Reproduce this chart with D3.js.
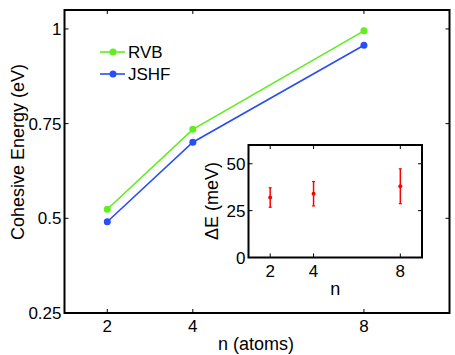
<!DOCTYPE html>
<html>
<head>
<meta charset="utf-8">
<script src="https://cdn.jsdelivr.net/npm/d3@7"></script>
<style>
  body { margin: 0; background: #fff; }
  text { font-family: "Liberation Sans", Arial, sans-serif; fill: #000; }
</style>
</head>
<body>
<div id="chart"></div>
<script>
/* Cohesive energy vs n, with inset of energy difference */

const atoms = [2, 4, 8];
const rvb = [0.524, 0.735, 0.995];
const jshf = [0.491, 0.701, 0.957];
const yTicks = [0.25, 0.5, 0.75, 1];

const insetN = [2, 4, 8];
const deltaE = [32, 34, 38];
const deltaErr = [5.2, 6.5, 9.3];
const insetYTicks = [0, 25, 50];

const width = 455, height = 355;

const svg = d3.select("#chart")
    .append("svg")
    .attr("width", width)
    .attr("height", height);

// main axes
const x = d3.scaleLinear().domain([1, 10]).range([64.5, 449.5]);
const y = d3.scaleLinear().domain([0.25, 1.05]).range([313, 10]);

const tick = 4;

function frame(xs, ys, xt, yt, fs) {
    const g = svg.append("g");
    const [x0, x1] = xs.range(), [y0, y1] = ys.range();
    // ticks, inward on all four sides
    xt.forEach(v => {
        g.append("line").attr("x1", xs(v)).attr("x2", xs(v)).attr("y1", y0).attr("y2", y0 - tick).attr("stroke", "#000");
        g.append("line").attr("x1", xs(v)).attr("x2", xs(v)).attr("y1", y1).attr("y2", y1 + tick).attr("stroke", "#000");
        g.append("text").attr("x", xs(v)).attr("y", y0 + fs + 2).attr("text-anchor", "middle")
            .style("font-size", fs + "px").text(v);
    });
    yt.forEach(v => {
        g.append("line").attr("x1", x0).attr("x2", x0 + tick).attr("y1", ys(v)).attr("y2", ys(v)).attr("stroke", "#000");
        g.append("line").attr("x1", x1).attr("x2", x1 - tick).attr("y1", ys(v)).attr("y2", ys(v)).attr("stroke", "#000");
        g.append("text").attr("x", x0 - 3).attr("y", ys(v)).attr("dy", "0.36em").attr("text-anchor", "end")
            .style("font-size", fs + "px").text(v);
    });
    g.append("rect")
        .attr("x", x0).attr("y", y1)
        .attr("width", x1 - x0).attr("height", y0 - y1)
        .attr("fill", "none").attr("stroke", "#000").attr("stroke-width", 2);
    return g;
}

frame(x, y, atoms, yTicks, 17);

const line = d3.line().x((d, i) => x(atoms[i])).y(d => y(d));

const series = [
    { name: "RVB", vals: rvb, color: "#5fee1e" },
    { name: "JSHF", vals: jshf, color: "#2a4df5" }
];

series.forEach(s => {
    svg.append("path").datum(s.vals)
        .attr("d", line)
        .attr("fill", "none")
        .attr("stroke", s.color)
        .attr("stroke-width", 1.6);
    svg.selectAll(null).data(s.vals).enter().append("circle")
        .attr("cx", (d, i) => x(atoms[i]))
        .attr("cy", d => y(d))
        .attr("r", 3.5)
        .attr("fill", s.color);
});

// legend
series.forEach((s, i) => {
    const ly = 52 + i * 22;
    svg.append("line").attr("x1", 100).attr("x2", 125).attr("y1", ly).attr("y2", ly)
        .attr("stroke", s.color).attr("stroke-width", 1.6);
    svg.append("circle").attr("cx", 113).attr("cy", ly).attr("r", 3.5).attr("fill", s.color);
    svg.append("text").attr("x", 128).attr("y", ly).attr("dy", "0.36em")
        .style("font-size", "17px").text(s.name);
});

svg.append("text")
    .attr("transform", "rotate(-90)")
    .attr("x", -152).attr("y", 24)
    .attr("text-anchor", "middle")
    .style("font-size", "18px")
    .text("Cohesive Energy (eV)");

svg.append("text")
    .attr("x", 256).attr("y", 350)
    .attr("text-anchor", "middle")
    .style("font-size", "18px")
    .text("n (atoms)");

// inset
const xi = d3.scaleLinear().domain([1, 9]).range([248.5, 422]);
const yi = d3.scaleLinear().domain([0, 60]).range([257.5, 145]);

svg.append("rect").attr("x", 248.5).attr("y", 145).attr("width", 422 - 248.5).attr("height", 257.5 - 145)
    .attr("fill", "#fff");
frame(xi, yi, insetN, insetYTicks, 17);

svg.selectAll(null).data(deltaE).enter().append("line")
    .attr("x1", (d, i) => xi(insetN[i])).attr("x2", (d, i) => xi(insetN[i]))
    .attr("y1", (d, i) => yi(d - deltaErr[i]))
    .attr("y2", (d, i) => yi(d + deltaErr[i]))
    .attr("stroke", "#ff0000").attr("stroke-width", 1.5);

["lo", "hi"].forEach(k => {
    svg.selectAll(null).data(deltaE).enter().append("line")
        .attr("x1", (d, i) => xi(insetN[i]) - 1.5).attr("x2", (d, i) => xi(insetN[i]) + 1.5)
        .attr("y1", (d, i) => yi(k === "lo" ? d - deltaErr[i] : d + deltaErr[i]))
        .attr("y2", (d, i) => yi(k === "lo" ? d - deltaErr[i] : d + deltaErr[i]))
        .attr("stroke", "#ff0000").attr("stroke-width", 1.2);
});

svg.selectAll(null).data(deltaE).enter().append("circle")
    .attr("cx", (d, i) => xi(insetN[i]))
    .attr("cy", d => yi(d))
    .attr("r", 2)
    .attr("fill", "#ff0000");

svg.append("text")
    .attr("transform", "rotate(-90)")
    .attr("x", -201).attr("y", 218)
    .attr("text-anchor", "middle")
    .style("font-size", "18px")
    .text("ΔE (meV)");

svg.append("text")
    .attr("x", xi(5)).attr("y", 295)
    .attr("text-anchor", "middle")
    .style("font-size", "18px")
    .text("n");
</script>
</body>
</html>
